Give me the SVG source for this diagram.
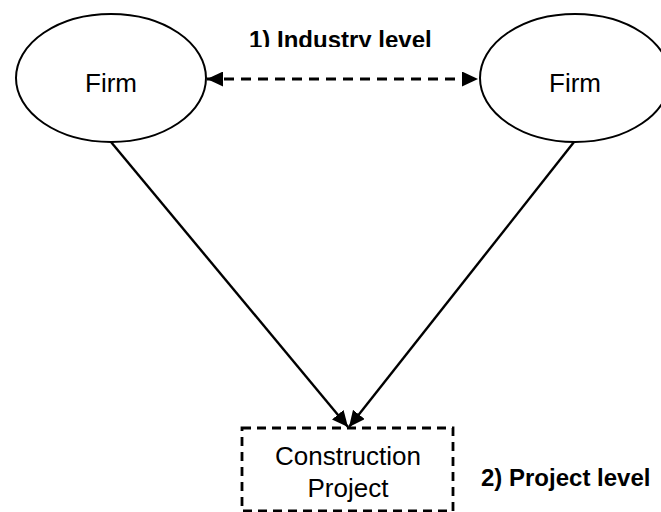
<svg xmlns="http://www.w3.org/2000/svg" width="661" height="512" viewBox="0 0 661 512">
  <style>
    .node { fill: #ffffff; stroke: #000000; stroke-width: 2; }
    .label { font-family: "Liberation Sans", Arial, sans-serif; font-size: 26px; fill: #000000; text-anchor: middle; }
    .level { font-family: "Liberation Sans", Arial, sans-serif; font-size: 24px; font-weight: bold; fill: #000000; }
    .link { fill: none; stroke: #000000; stroke-width: 2.4; }
    .dashed { stroke-width: 2.8; stroke-dasharray: 10 7; }
    .box { fill: #ffffff; stroke: #000000; stroke-width: 2.8; stroke-dasharray: 9 6; }
  </style>
  <defs>
    <marker id="arrow" viewBox="0 0 16 15" refX="16" refY="7.5" markerWidth="16" markerHeight="15" markerUnits="userSpaceOnUse" orient="auto-start-reverse">
      <path d="M0,0 L16,7.5 L0,15 Z" fill="#000000"/>
    </marker>
    <clipPath id="clip-top-label">
      <rect x="0" y="0" width="661" height="47"/>
    </clipPath>
  </defs>

  <rect width="661" height="512" fill="#ffffff"/>

  <!-- connectors -->
  <g id="connectors">
    <line class="link dashed" x1="207" y1="79" x2="478" y2="79" marker-start="url(#arrow)" marker-end="url(#arrow)"/>
    <line class="link" x1="111" y1="142" x2="348" y2="427" marker-end="url(#arrow)"/>
    <line class="link" x1="574" y1="142" x2="349" y2="427" marker-end="url(#arrow)"/>
  </g>

  <g id="firm-left">
    <ellipse class="node" cx="111" cy="78" rx="95" ry="64"/>
    <text class="label" x="111" y="92">Firm</text>
  </g>

  <g id="firm-right">
    <ellipse class="node" cx="575" cy="78" rx="95" ry="64"/>
    <text class="label" x="575" y="92">Firm</text>
  </g>

  <g id="project">
    <rect class="box" x="242" y="428" width="211" height="83"/>
    <text class="label" x="348" y="465">Construction</text>
    <text class="label" x="348" y="497">Project</text>
  </g>

  <g id="labels">
    <text class="level" x="249" y="48" clip-path="url(#clip-top-label)">1) Industry level</text>
    <text class="level" x="481" y="486">2) Project level</text>
  </g>
</svg>
